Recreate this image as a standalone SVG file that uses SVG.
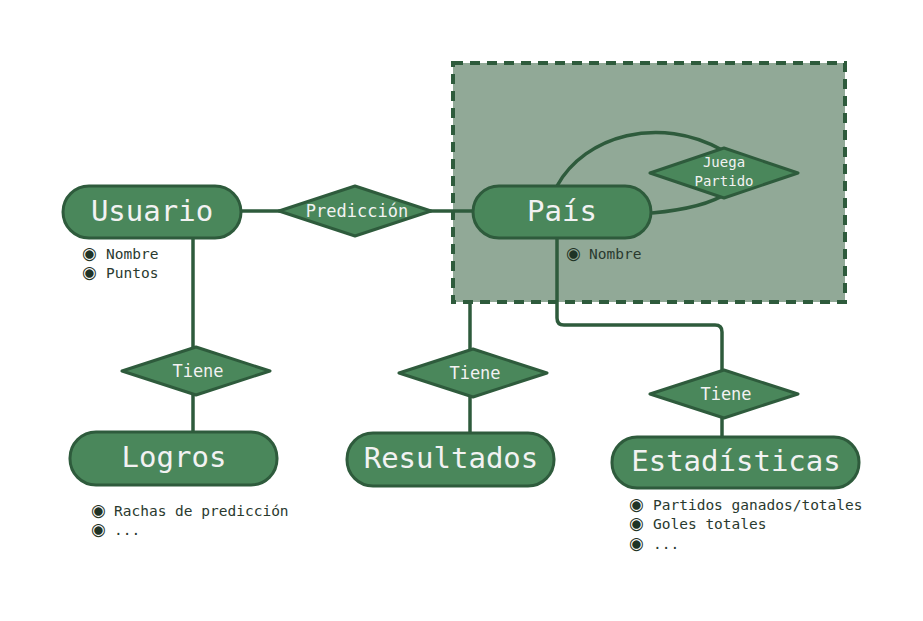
<svg xmlns="http://www.w3.org/2000/svg" width="923" height="621" viewBox="0 0 923 621">
<style>
.ent{fill:#4a875b;stroke:#2e5b3c;stroke-width:3}
.rel{fill:#4a875b;stroke:#2e5b3c;stroke-width:3;stroke-linejoin:round}
.con{fill:none;stroke:#2e5b3c;stroke-width:3.5}
.t1{font-family:"DejaVu Sans Mono",monospace;font-size:29px;fill:#f2f2f2;text-anchor:middle}
.t2{font-family:"DejaVu Sans Mono",monospace;font-size:17px;fill:#f2f2f2;text-anchor:middle}
.t3{font-family:"DejaVu Sans Mono",monospace;font-size:14px;fill:#f2f2f2;text-anchor:middle}
.at{font-family:"DejaVu Sans Mono","DejaVu Sans",monospace;font-size:14.5px;fill:#2a3a2f}
.b{font-family:"DejaVu Sans",sans-serif;font-size:17px;fill:#1f3326}
</style>
<rect width="923" height="621" fill="#ffffff"/>
<g id="container">
<rect x="453" y="63" width="392" height="239" fill="#91a997" stroke="#2e5b3c" stroke-width="4" stroke-dasharray="10,7"/>
</g>
<g id="connectors">
<path class="con" d="M241,211 H280"/>
<path class="con" d="M430,211 H474"/>
<path class="con" d="M557,186 C585,135 660,115 722,150"/>
<path class="con" d="M652,213 Q705,208 727,193"/>
<path class="con" d="M193,238 V348"/>
<path class="con" d="M193,394 V433"/>
<path class="con" d="M470,302 V350"/>
<path class="con" d="M470,396 V434"/>
<path class="con" d="M557,238 V318 Q557,325 564,325 H715 Q722,325 722,332 V371"/>
<path class="con" d="M722,417 V438"/>
</g>
<g id="usuario">
<rect class="ent" x="63" y="186" width="178" height="52" rx="26"/>
<text class="t1" x="152" y="221">Usuario</text>
<text class="at" x="82" y="259"><tspan class="b">◉</tspan><tspan x="106">Nombre</tspan></text>
<text class="at" x="82" y="278"><tspan class="b">◉</tspan><tspan x="106">Puntos</tspan></text>
</g>
<g id="prediccion">
<polygon class="rel" points="279,211 355,186 431,211 355,236"/>
<text class="t2" x="357" y="217">Predicción</text>
</g>
<g id="pais">
<rect class="ent" x="473" y="186" width="178" height="52" rx="26"/>
<text class="t1" x="562" y="221">País</text>
<text class="at" x="566" y="259"><tspan class="b">◉</tspan><tspan x="589">Nombre</tspan></text>
</g>
<g id="juega-partido">
<polygon class="rel" points="650,173 724,148 798,173 724,198"/>
<text class="t3" x="724" y="167">Juega</text>
<text class="t3" x="724" y="186">Partido</text>
</g>
<g id="tiene-logros">
<polygon class="rel" points="122,371 196,347 270,371 196,395"/>
<text class="t2" x="198" y="377">Tiene</text>
</g>
<g id="logros">
<rect class="ent" x="70" y="432" width="207" height="53" rx="26"/>
<text class="t1" x="174" y="467">Logros</text>
<text class="at" x="91" y="516"><tspan class="b">◉</tspan><tspan x="114">Rachas de predicción</tspan></text>
<text class="at" x="91" y="535"><tspan class="b">◉</tspan><tspan x="114">...</tspan></text>
</g>
<g id="tiene-resultados">
<polygon class="rel" points="399,373 473,349 547,373 473,397"/>
<text class="t2" x="475" y="379">Tiene</text>
</g>
<g id="resultados">
<rect class="ent" x="347" y="433" width="207" height="53" rx="26"/>
<text class="t1" x="451" y="468">Resultados</text>
</g>
<g id="tiene-estadisticas">
<polygon class="rel" points="650,394 724,370 798,394 724,418"/>
<text class="t2" x="726" y="400">Tiene</text>
</g>
<g id="estadisticas">
<rect class="ent" x="612" y="437" width="247" height="51" rx="25"/>
<text class="t1" x="736" y="471">Estadísticas</text>
<text class="at" x="629" y="510"><tspan class="b">◉</tspan><tspan x="653">Partidos ganados/totales</tspan></text>
<text class="at" x="629" y="529"><tspan class="b">◉</tspan><tspan x="653">Goles totales</tspan></text>
<text class="at" x="629" y="549"><tspan class="b">◉</tspan><tspan x="653">...</tspan></text>
</g>
</svg>
